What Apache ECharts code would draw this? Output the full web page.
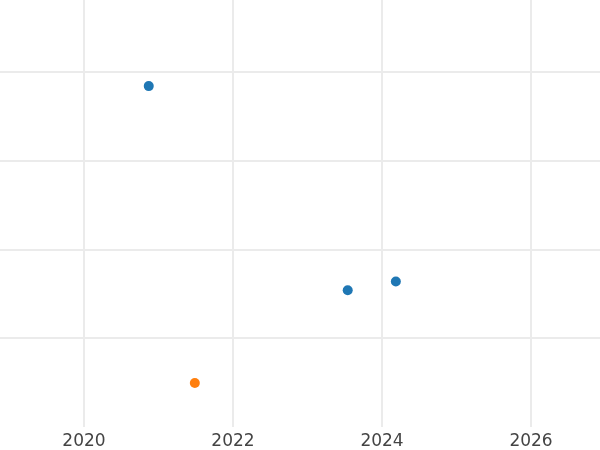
<!DOCTYPE html>
<html>
<head>
<meta charset="utf-8">
<script src="https://cdn.jsdelivr.net/npm/echarts@6/dist/echarts.min.js"></script>
<style>html,body{margin:0;padding:0;background:#fff}#c{width:600px;height:450px}</style>
</head>
<body>
<div id="c"></div>
<script>
// Data
var blueDates = ['2020-11-14', '2023-07-17', '2024-03-09'];
var blueValues = [3.84, 1.54, 1.64];
var orangeDates = ['2021-06-28'];
var orangeValues = [0.495];
var xTickLabels = ['2020', '2022', '2024', '2026'];

function decYear(s) {
  var p = s.split('-').map(Number);
  var y = p[0];
  var start = Date.UTC(y, 0, 1), end = Date.UTC(y + 1, 0, 1);
  var t = Date.UTC(y, p[1] - 1, p[2]);
  return y + (t - start) / (end - start);
}
function pairs(d, v) { return d.map(function (s, i) { return [decYear(s), v[i]]; }); }

var chart = echarts.init(document.getElementById('c'));
chart.setOption({
  animation: false,
  backgroundColor: '#ffffff',
  grid: { left: 0, right: 0, top: 0, bottom: 22, containLabel: false },
  xAxis: {
    type: 'value',
    min: 2018.8725,
    max: 2026.926,
    splitNumber: 4,
    axisLine: { show: false },
    axisTick: { show: false },
    axisLabel: {
      showMinLabel: false, showMaxLabel: false,
      color: '#444444', fontSize: 17, fontFamily: 'DejaVu Sans', margin: 6,
      formatter: function (v) {
        var s = String(Math.round(v));
        return xTickLabels.indexOf(s) >= 0 ? s : '';
      }
    },
    splitLine: { show: true, showMinLine: false, showMaxLine: false, lineStyle: { color: '#ebebeb', width: 2 } }
  },
  yAxis: {
    type: 'value',
    min: 0,
    max: 4.81,
    interval: 1,
    axisLine: { show: false },
    axisTick: { show: false },
    axisLabel: { show: false },
    splitLine: { show: true, showMinLine: false, showMaxLine: false, lineStyle: { color: '#ebebeb', width: 2 } }
  },
  series: [
    { type: 'scatter', data: pairs(blueDates, blueValues), symbolSize: 10, itemStyle: { color: '#1f77b4', opacity: 1 } },
    { type: 'scatter', data: pairs(orangeDates, orangeValues), symbolSize: 10, itemStyle: { color: '#ff7f0e', opacity: 1 } }
  ]
});
</script>
</body>
</html>
